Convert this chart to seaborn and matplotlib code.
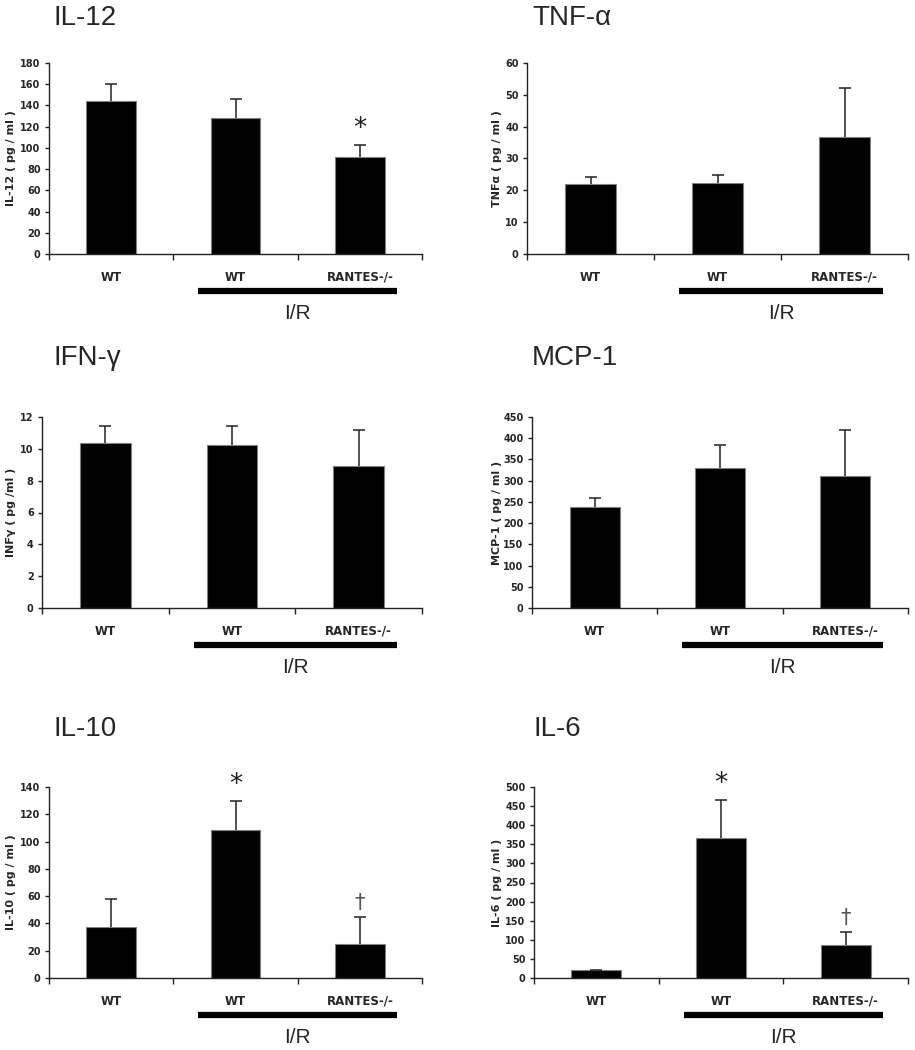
import numpy as np
import pandas as pd
import matplotlib
matplotlib.use("Agg")
import matplotlib.pyplot as plt
import matplotlib.transforms as mtransforms
import seaborn as sns

# ── Data (mean, upper error) ──────────────────────────────────────────────────
groups = ["WT", "WT I/R", "RANTES-/- I/R"]
group_labels = ["WT", "WT", "RANTES-/-"]

il12_mean = [144.0, 128.0, 91.5]
il12_err = [16.0, 18.0, 11.0]
tnf_mean = [22.0, 22.3, 36.9]
tnf_err = [2.1, 2.6, 15.4]
ifn_mean = [10.35, 10.22, 8.95]
ifn_err = [1.07, 1.2, 2.22]
mcp_mean = [239.0, 330.0, 312.0]
mcp_err = [19.0, 54.0, 107.0]
il10_mean = [37.6, 108.7, 25.2]
il10_err = [20.3, 21.3, 19.3]
il6_mean = [20.0, 367.0, 86.0]
il6_err = [1.5, 100.0, 34.0]

titles = ["IL-12", "TNF-α", "IFN-γ", "MCP-1", "IL-10", "IL-6"]
ylabels = ["IL-12 ( pg / ml )", "TNFα ( pg / ml )", "INFγ ( pg /ml )",
           "MCP-1 ( pg / ml )", "IL-10 ( pg / ml )", "IL-6 ( pg / ml )"]
ymax = [180, 60, 12, 450, 140, 500]
ystep = [20, 10, 2, 50, 20, 50]
# significance marks per group ("" = none)
marks = [["", "", "*"], ["", "", ""], ["", "", ""],
         ["", "", ""], ["", "*", "†"], ["", "*", "†"]]

means = [il12_mean, tnf_mean, ifn_mean, mcp_mean, il10_mean, il6_mean]
errs = [il12_err, tnf_err, ifn_err, mcp_err, il10_err, il6_err]

# ── Layout (pixels) ──────────────────────────────────────────────────────────
W, H = 915, 1050
# left, right, top, bottom
boxes = [(49, 422, 63, 254), (527, 908, 63, 254),
         (42, 422, 417, 608), (532, 908, 417, 608),
         (49, 422, 787, 978), (534, 908, 787, 978)]
title_pos = [(54, 25), (532, 25), (54, 365), (532, 365), (54, 736), (533, 736)]
# right edge of the rotated y label
ylabel_x = [16, 502, 16, 502, 16, 502]

sns.set_style("ticks")
plt.rcParams.update({
    "font.family": "DejaVu Sans",
    "axes.edgecolor": "#222222",
    "axes.linewidth": 1.0,
})

fig = plt.figure(figsize=(W / 100, H / 100), dpi=100)

for k in range(6):
    l, r, t, b = boxes[k]
    ax = fig.add_axes([l / W, 1 - b / H, (r - l) / W, (b - t) / H])
    df = pd.DataFrame({"group": groups, "value": means[k]})
    sns.barplot(data=df, x="group", y="value", order=groups, color="black",
                width=0.4, edgecolor="#808080", linewidth=0.8, saturation=1,
                errorbar=None, ax=ax)
    x = np.arange(len(groups))
    eb = ax.errorbar(x, means[k], yerr=[np.zeros(3), errs[k]], fmt="none",
                     ecolor="#222222", elinewidth=1.1, capsize=4.5, capthick=1.1)
    # only the upper cap is drawn in the original
    eb[1][0].set_visible(False)

    ax.set_xlim(-0.5, 2.5)
    ax.set_ylim(0, ymax[k])
    yt = np.arange(0, ymax[k] + ystep[k] / 2, ystep[k])
    ax.set_yticks(yt)
    ax.set_yticklabels([f"{v:g}" for v in yt], fontsize=7, fontweight="bold")
    ax.tick_params(axis="y", length=3, width=1, pad=3, color="#222222")
    ax.set_xticks(x)
    ax.set_xticklabels(group_labels, fontsize=8.5, fontweight="bold")
    ax.tick_params(axis="x", which="major", length=0, pad=12)
    ax.set_xticks([-0.5, 0.5, 1.5, 2.5], minor=True)
    ax.tick_params(axis="x", which="minor", length=4, width=1, color="#222222")
    ax.set_xlabel("")
    ax.set_ylabel(ylabels[k], fontsize=8, fontweight="bold")
    trans_lab = mtransforms.blended_transform_factory(fig.transFigure, ax.transAxes)
    ax.yaxis.set_label_coords(ylabel_x[k] / W, 0.5, transform=trans_lab)
    sns.despine(ax=ax)

    # significance marks above the error bars
    for i, m in enumerate(marks[k]):
        if not m:
            continue
        top = means[k][i] + errs[k][i]
        if m == "*":
            ax.annotate(m, xy=(i, top), xytext=(0, 2), textcoords="offset points",
                        ha="center", va="bottom", fontsize=19, color="#222222")
        else:
            ax.annotate(m, xy=(i, top), xytext=(0, 3), textcoords="offset points",
                        ha="center", va="bottom", fontsize=15, color="#555555")

    # I/R bracket under the treated groups
    trans = mtransforms.blended_transform_factory(ax.transData, ax.transAxes)
    ax.plot([1 - 0.3, 2 + 0.3], [-0.194, -0.194], color="black", lw=4.5,
            solid_capstyle="butt", transform=trans, clip_on=False)
    ax.text(1.5, -0.31, "I/R", transform=trans, ha="center", va="center",
            fontsize=15, family="Liberation Sans")

    tx, ty = title_pos[k]
    fig.text(tx / W, 1 - ty / H, titles[k], ha="left", va="baseline",
             fontsize=20, family="Liberation Sans")

fig.savefig("out.png", dpi=100)
